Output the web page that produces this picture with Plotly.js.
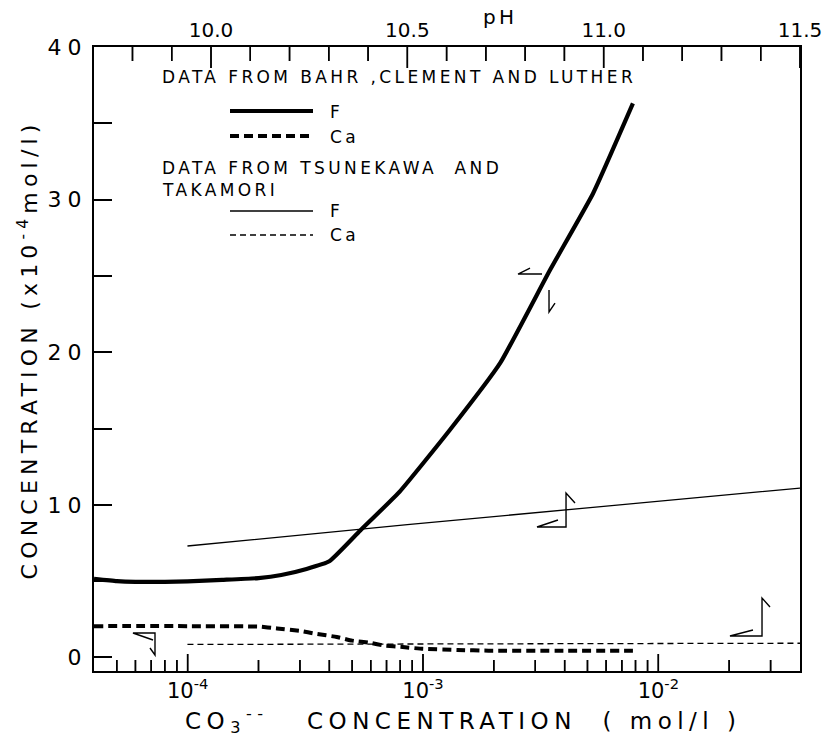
<!DOCTYPE html>
<html>
<head>
<meta charset="utf-8">
<script src="https://cdn.plot.ly/plotly-3.0.1.min.js"></script>
<style>
  html, body { margin: 0; padding: 0; background: #fff; }
  #chart { width: 832px; height: 741px; }
  .annotation-text { letter-spacing: 3.4px; }
  .annotation[data-index="8"] .annotation-text { letter-spacing: 5.2px; }
  .annotation[data-index="9"] .annotation-text { letter-spacing: 5.5px; }
  .ytick text { letter-spacing: 6px; }
</style>
</head>
<body>
<div id="chart"></div>
<script>
// ---- Data: Bahr, Clement and Luther (vs CO3-- concentration, bottom log axis) ----
const bahrFX  = [4.0e-5, 5.0e-5, 6.0e-5, 8.0e-5, 1.0e-4, 1.4e-4, 2.0e-4, 2.5e-4, 3.2e-4, 4.0e-4, 5.4e-4, 8.0e-4, 1.3e-3, 2.13e-3, 3.47e-3, 5.28e-3, 7.8e-3];
const bahrF   = [5.15,   5.0,    4.95,   4.95,   4.98,   5.08,   5.2,    5.4,    5.8,    6.3,    8.3,    10.9,   14.9,   19.3,    25.4,    30.4,    36.3];
const bahrCaX = [4.0e-5, 1.0e-4, 2.0e-4, 2.4e-4, 3.0e-4, 3.5e-4, 4.3e-4, 5.0e-4, 6.0e-4, 6.8e-4, 8.2e-4, 1.0e-3, 1.4e-3, 1.9e-3, 4.0e-3, 7.8e-3];
const bahrCa  = [2.05,   2.05,   2.02,   1.9,    1.74,   1.55,   1.34,   1.1,    0.95,   0.78,   0.68,   0.56,   0.49,   0.44,   0.43,   0.43];

// ---- Data: Tsunekawa and Takamori (vs pH, top axis) ----
const tsuPH = [9.94, 10.5, 11.0, 11.5];
const tsuF  = [7.3, 8.7, 9.9, 11.1];
const tsuCa = [0.85, 0.87, 0.9, 0.93];

// ---- Axis ticks ----
const xMajor = [1e-4, 1e-3, 1e-2];
const xMajorText = ['10<sup>-4</sup>', '10<sup>-3</sup>', '10<sup>-2</sup>'];
const xMinor = [5e-5, 6e-5, 7e-5, 8e-5, 9e-5,
                2e-4, 3e-4, 4e-4, 5e-4, 6e-4, 7e-4, 8e-4, 9e-4,
                2e-3, 3e-3, 4e-3, 5e-3, 6e-3, 7e-3, 8e-3, 9e-3,
                2e-2, 3e-2];
const phTicks = [10.0, 10.5, 11.0, 11.5];
const phText = ['10.0', '10.5', '11.0', '11.5'];
const phMinor = [9.8, 9.9, 10.1, 10.2, 10.3, 10.4, 10.6, 10.7, 10.8, 10.9, 11.1, 11.2, 11.3, 11.4];
const yTicks = [0, 5, 10, 15, 20, 25, 30, 35, 40];
const yText = ['0', '', '10', '', '20', '', '30', '', '40'];

const FONT = 'DejaVu Sans';
const L = 94, R = 32, T = 47, B = 70, W = 832, H = 741;
const PW = W - L - R, PH = H - T - B;
const px = x => (x - L) / PW;       // pixel -> paper (decorations only)
const py = y => (H - B - y) / PH;
function path(pts) {
  return pts.map((p, i) => (i ? 'L' : 'M') + px(p[0]).toFixed(4) + ',' + py(p[1]).toFixed(4)).join(' ');
}
const logRange = [Math.log10(4e-5), Math.log10(4e-2)];
const yRange = [-0.89, 40];
const ppu = PH / (yRange[1] - yRange[0]);   // pixels per y unit, for tick lengths

// tick marks drawn as line segments through the axes' own scales
function tickTrace(vals, xaxis, atTop, lenPx) {
  const base = atTop ? yRange[1] : yRange[0];
  const tip = atTop ? base - lenPx / ppu : base + lenPx / ppu;
  return {x: vals.flatMap(v => [v, v, null]), y: vals.flatMap(() => [base, tip, null]),
    xaxis: xaxis, yaxis: 'y', mode: 'lines', line: {color: '#000', width: 1.5},
    connectgaps: false, showlegend: false, hoverinfo: 'skip'};
}

const traces = [
  {x: bahrFX, y: bahrF, xaxis: 'x2', yaxis: 'y', mode: 'lines',
   line: {color: '#000', width: 4.2, shape: 'spline', smoothing: 0.4}, showlegend: false, hoverinfo: 'skip'},
  {x: bahrCaX, y: bahrCa, xaxis: 'x2', yaxis: 'y', mode: 'lines',
   line: {color: '#000', width: 4, dash: '9px,5px', shape: 'spline', smoothing: 0.4}, showlegend: false, hoverinfo: 'skip'},
  {x: tsuPH, y: tsuF, xaxis: 'x', yaxis: 'y', mode: 'lines',
   line: {color: '#000', width: 1.3}, showlegend: false, hoverinfo: 'skip'},
  {x: tsuPH, y: tsuCa, xaxis: 'x', yaxis: 'y', mode: 'lines',
   line: {color: '#000', width: 1.3, dash: '6px,4px'}, showlegend: false, hoverinfo: 'skip'},
  tickTrace(xMajor, 'x2', false, 17),
  tickTrace(xMinor, 'x2', false, 11),
  tickTrace(phTicks, 'x', true, 21),
  tickTrace(phMinor, 'x', true, 14)
];

const tk = {color: '#000', width: 1.5};
const tick = (xref, v, anchor, len) => ({type: 'line', xref: xref, yref: 'paper', ysizemode: 'pixel',
  yanchor: anchor, x0: v, x1: v, y0: 0, y1: len, line: tk});
const tickShapes = [].concat(
  xMajor.map(v => tick('x2', v, 0, 17)),
  xMinor.map(v => tick('x2', v, 0, 11)),
  phTicks.map(v => tick('x', v, 1, -21)),
  phMinor.map(v => tick('x', v, 1, -14))
);

const ln = {color: '#000', width: 1.4};
const shapes = [
  // legend samples
  {type: 'line', xref: 'paper', yref: 'paper', x0: px(230), x1: px(313), y0: py(111), y1: py(111), line: {color: '#000', width: 4.2}},
  {type: 'line', xref: 'paper', yref: 'paper', x0: px(230), x1: px(313), y0: py(136), y1: py(136), line: {color: '#000', width: 4, dash: '9px,5px'}},
  {type: 'line', xref: 'paper', yref: 'paper', x0: px(230), x1: px(313), y0: py(211), y1: py(211), line: {color: '#000', width: 1.3}},
  {type: 'line', xref: 'paper', yref: 'paper', x0: px(230), x1: px(313), y0: py(235), y1: py(235), line: {color: '#000', width: 1.3, dash: '6px,4px'}},
  // half-arrows showing which axes each curve uses
  {type: 'path', xref: 'paper', yref: 'paper', line: ln, path: path([[530, 268], [518, 274], [542, 274]])},
  {type: 'path', xref: 'paper', yref: 'paper', line: ln, path: path([[549, 290], [549, 312], [555, 303]])},
  {type: 'path', xref: 'paper', yref: 'paper', line: ln, path: path([[558, 520], [537, 527], [566, 527], [566, 493], [575, 503]])},
  {type: 'path', xref: 'paper', yref: 'paper', line: ln, path: path([[753, 630], [730, 636], [762, 636], [762, 598], [770, 607]])},
  {type: 'path', xref: 'paper', yref: 'paper', line: ln, path: path([[153, 640], [133, 633], [155, 633], [155, 655], [150, 648]])}
].concat(tickShapes);

const annFont = {family: FONT, size: 17, color: '#000'};
const ann = (x, y, text) => ({xref: 'paper', yref: 'paper', x: px(x), y: py(y), text: text,
  showarrow: false, xanchor: 'left', yanchor: 'middle', align: 'left', font: annFont});
const annotations = [
  ann(160, 77, 'DATA FROM BAHR ,CLEMENT AND LUTHER'),
  ann(328, 112, 'F'),
  ann(328, 137, 'Ca'),
  ann(160, 168, 'DATA FROM TSUNEKAWA\u00a0 AND'),
  ann(160, 190, 'TAKAMORI'),
  ann(328, 211, 'F'),
  ann(328, 235, 'Ca'),
  {xref: 'paper', yref: 'paper', x: px(500), y: py(31), text: 'pH', showarrow: false,
   xanchor: 'center', yanchor: 'bottom', font: {family: FONT, size: 20, color: '#000'}},
  // y-axis title
  {xref: 'paper', yref: 'paper', x: px(28), y: py(350), text: 'CONCENTRATION (x10<sup>-4</sup>mol/l)',
   textangle: -90, showarrow: false, xanchor: 'center', yanchor: 'middle', align: 'center',
   font: {family: FONT, size: 22, color: '#000'}},
  // x-axis title
  {xref: 'paper', yref: 'paper', x: px(183), y: py(720),
   text: 'CO<sub>3</sub><sup>--</sup>\u00a0\u00a0\u00a0CONCENTRATION\u00a0\u00a0(\u00a0mol/l\u00a0)',
   showarrow: false, xanchor: 'left', yanchor: 'middle', align: 'left', font: {family: FONT, size: 23, color: '#000'}}
];

const axBase = {showgrid: false, zeroline: false, ticks: '', linecolor: '#000', linewidth: 2};

const layout = {
  width: W, height: H,
  margin: {l: L, r: R, t: T, b: B},
  paper_bgcolor: '#fff', plot_bgcolor: 'rgba(0,0,0,0)',
  font: {family: FONT, color: '#000'},
  showlegend: false,
  // top pH axis
  xaxis: Object.assign({}, axBase, {
    range: [9.702, 11.5], side: 'top', anchor: 'y',
    tickmode: 'array', tickvals: phTicks, ticktext: phText, showline: true,
    tickfont: {family: FONT, size: 20}
  }),
  // bottom CO3-- concentration axis (log)
  xaxis2: Object.assign({}, axBase, {
    type: 'log', range: logRange, overlaying: 'x', side: 'bottom', anchor: 'y',
    tickmode: 'array', tickvals: xMajor, ticktext: xMajorText,
    showline: true, tickfont: {family: FONT, size: 21}
  }),
  yaxis: Object.assign({}, axBase, {
    range: yRange, tickmode: 'array', tickvals: yTicks, ticktext: yText,
    ticks: 'inside', ticklen: 18, tickcolor: '#000', tickwidth: 1.5,
    showline: true, mirror: true, tickfont: {family: FONT, size: 22}
  }),
  shapes: shapes,
  annotations: annotations
};

Plotly.newPlot('chart', traces, layout, {displayModeBar: false});
</script>
</body>
</html>
